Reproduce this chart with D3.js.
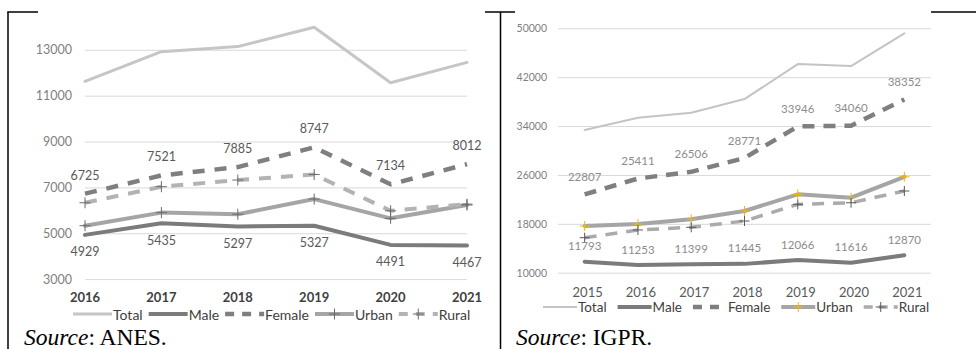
<!DOCTYPE html>
<html>
<head>
<meta charset="utf-8">
<script src="https://cdn.jsdelivr.net/npm/d3@7"></script>
<style>
  html, body { margin: 0; padding: 0; background: #fff; }
  svg { display: block; }
  .src { font-family: "Liberation Serif", "Times New Roman", serif; font-size: 23.5px; fill: #000; }
</style>
</head>
<body>
<svg id="fig" width="976" height="349"></svg>
<script>
// ---- Panel A: ANES, 2016–2021 ----
const yearsA  = ["2016", "2017", "2018", "2019", "2020", "2021"];
const totalA  = [11620, 12920, 13140, 13980, 11560, 12450];
const maleA   = [4929, 5435, 5297, 5327, 4491, 4467];
const femaleA = [6725, 7521, 7885, 8747, 7134, 8012];
const urbanA  = [5330, 5900, 5830, 6490, 5650, 6230];
const ruralA  = [6330, 7030, 7320, 7560, 5980, 6270];
const ticksA  = [3000, 5000, 7000, 9000, 11000, 13000];

// ---- Panel B: IGPR, 2015–2021 ----
const yearsB  = ["2015", "2016", "2017", "2018", "2019", "2020", "2021"];
const totalB  = [33350, 35360, 36180, 38420, 44140, 43820, 49170];
const maleB   = [11793, 11253, 11399, 11445, 12066, 11616, 12870];
const femaleB = [22807, 25411, 26506, 28771, 33946, 34060, 38352];
const urbanB  = [17640, 17970, 18740, 20100, 22830, 22270, 25700];
const ruralB  = [15730, 16990, 17430, 18460, 21190, 21450, 23370];
const ticksB  = [10000, 18000, 26000, 34000, 42000, 50000];

const seriesNames = ["Total", "Male", "Female", "Urban", "Rural"];

const svg = d3.select("#fig");
const FONT = "Lato, 'Open Sans', sans-serif";

// frame rules between the two panels
const frame = svg.append("g").attr("stroke", "#000").attr("stroke-width", 1.5);
frame.append("line").attr("x1", 8).attr("x2", 8).attr("y1", 12).attr("y2", 349);
frame.append("line").attr("x1", 7.25).attr("x2", 38).attr("y1", 12).attr("y2", 12);
frame.append("line").attr("x1", 485).attr("x2", 515).attr("y1", 12).attr("y2", 12);
frame.append("line").attr("x1", 500.5).attr("x2", 500.5).attr("y1", 12).attr("y2", 349);
frame.append("line").attr("x1", 931).attr("x2", 976).attr("y1", 12).attr("y2", 12);

function drawPanel(cfg) {
  const g = svg.append("g");
  const y = d3.scaleLinear().domain(cfg.yDomain).range(cfg.yRange);
  let xPos;
  if (cfg.band) {
    const xb = d3.scaleBand().domain(cfg.years).range(cfg.xRange).paddingInner(0).paddingOuter(0);
    xPos = d => xb(d) + xb.bandwidth() / 2;
  } else {
    const xp = d3.scalePoint().domain(cfg.years).range(cfg.xRange);
    xPos = d => xp(d);
  }

  // gridlines
  const yAxis = d3.axisLeft(y).tickValues(cfg.ticks)
    .tickSize(-(cfg.gridRange[1] - cfg.gridRange[0])).tickPadding(cfg.tickPad).tickFormat(d3.format("d"));
  const ay = g.append("g").attr("transform", `translate(${cfg.gridRange[0]},0)`).call(yAxis);
  ay.select(".domain").remove();
  ay.selectAll(".tick line").attr("stroke", "#d9d9d9").attr("stroke-width", 1);
  ay.selectAll(".tick text").attr("fill", cfg.yTickColor).style("font-family", FONT)
    .style("font-size", cfg.yTickSize + "px");

  // category labels
  const ax = g.append("g").attr("transform", `translate(0,${cfg.xLabelY})`);
  ax.selectAll("text").data(cfg.years).join("text")
    .attr("x", d => xPos(d) + cfg.xLabelShift)
    .attr("y", 0)
    .attr("text-anchor", "middle")
    .attr("dominant-baseline", "central")
    .style("font-family", FONT)
    .style("font-size", cfg.xLabelSize + "px")
    .style("font-weight", cfg.xLabelWeight)
    .attr("fill", cfg.xLabelColor)
    .text(d => d);

  const line = d3.line().x((d, i) => xPos(cfg.years[i])).y(d => y(d));

  cfg.series.forEach(s => {
    g.append("path").datum(s.values)
      .attr("d", line)
      .attr("fill", "none")
      .attr("stroke", s.color)
      .attr("stroke-width", s.width)
      .attr("stroke-dasharray", s.dash || null)
      .attr("stroke-linejoin", "round")
      .attr("stroke-linecap", s.dash ? "butt" : "round");
  });
  // plus markers drawn after all lines
  cfg.series.forEach(s => {
    if (!s.marker) return;
    const m = s.marker;
    g.append("g").selectAll("path").data(s.values).join("path")
      .attr("d", (d, i) => {
        const cx = xPos(cfg.years[i]), cy = y(d), r = m.size / 2;
        return `M${cx - r},${cy}H${cx + r}M${cx},${cy - r}V${cy + r}`;
      })
      .attr("stroke", m.color).attr("stroke-width", m.width).attr("fill", "none");
  });

  // value labels
  cfg.labels.forEach(L => {
    g.append("g").selectAll("text").data(L.values).join("text")
      .attr("x", (d, i) => xPos(cfg.years[i]))
      .attr("y", d => y(d) + L.dy)
      .attr("text-anchor", "middle")
      .attr("dominant-baseline", "central")
      .style("font-family", FONT)
      .style("font-size", cfg.valueSize + "px")
      .attr("fill", cfg.valueColor)
      .text(d => d);
  });

  // legend
  const lg = g.append("g").attr("transform", `translate(0,${cfg.legendY})`);
  let x = cfg.legendX;
  cfg.series.forEach((s, k) => {
    lg.append("line").attr("x1", x).attr("x2", x + cfg.symW).attr("y1", 0).attr("y2", 0)
      .attr("stroke", s.color).attr("stroke-width", s.width)
      .attr("stroke-dasharray", s.legendDash || s.dash || null);
    if (s.marker) {
      const cx = x + cfg.symW / 2, r = s.marker.size / 2;
      lg.append("path").attr("d", `M${cx - r},0H${cx + r}M${cx},${-r}V${r}`)
        .attr("stroke", s.marker.color).attr("stroke-width", s.marker.width);
    }
    const t = lg.append("text").attr("x", x + cfg.symW + 1).attr("y", 0)
      .attr("dominant-baseline", "central")
      .style("font-family", FONT).style("font-size", cfg.legendSize + "px")
      .attr("fill", cfg.legendColor).text(seriesNames[k]);
    x = x + cfg.symW + 1 + t.node().getComputedTextLength() + cfg.legendGap;
  });

  // source note
  const src = svg.append("text").attr("class", "src").attr("x", cfg.srcX).attr("y", cfg.srcY);
  src.append("tspan").style("font-style", "italic").text("Source");
  src.append("tspan").text(": " + cfg.srcName + ".");
}

drawPanel({
  years: yearsA, band: false,
  xRange: [85, 467], gridRange: [85, 467],
  yDomain: [3000, 13000], yRange: [279.1, 49.8], ticks: ticksA,
  tickPad: 13, yTickColor: "#7f7f7f", yTickSize: 12.5,
  xLabelY: 297, xLabelShift: 0, xLabelSize: 13, xLabelWeight: 700, xLabelColor: "#404040",
  valueSize: 12.5, valueColor: "#595959",
  series: [
    { values: totalA,  color: "#c6c6c6", width: 3 },
    { values: maleA,   color: "#7b7b7b", width: 4 },
    { values: femaleA, color: "#7f7f7f", width: 4.5, dash: "12,10", legendDash: "9,8" },
    { values: urbanA,  color: "#a5a5a5", width: 4, marker: { color: "#6b6b6b", size: 11, width: 1 } },
    { values: ruralA,  color: "#b3b3b3", width: 4, dash: "12,10", legendDash: "9,8", marker: { color: "#6b6b6b", size: 11, width: 1 } }
  ],
  labels: [
    { values: femaleA, dy: -18.5 },
    { values: maleA,   dy: 17 }
  ],
  legendX: 73, legendY: 314, symW: 39, legendGap: 6, legendSize: 14, legendColor: "#404040",
  srcX: 24, srcY: 345, srcName: "ANES"
});

drawPanel({
  years: yearsB, band: true,
  xRange: [558, 931], gridRange: [558, 931],
  yDomain: [10000, 50000], yRange: [272.7, 28.3], ticks: ticksB,
  tickPad: 11, yTickColor: "#7f7f7f", yTickSize: 10.5,
  xLabelY: 292, xLabelShift: 3, xLabelSize: 13, xLabelWeight: 400, xLabelColor: "#595959",
  valueSize: 11.5, valueColor: "#8c8c8c",
  series: [
    { values: totalB,  color: "#c4c4c4", width: 2 },
    { values: maleB,   color: "#7b7b7b", width: 4 },
    { values: femaleB, color: "#7f7f7f", width: 4.5, dash: "12,9", legendDash: "9,8" },
    { values: urbanB,  color: "#a5a5a5", width: 4, marker: { color: "#f5b800", size: 10, width: 1 } },
    { values: ruralB,  color: "#ababab", width: 3.5, dash: "12,9", legendDash: "9,6", marker: { color: "#595959", size: 10, width: 1 } }
  ],
  labels: [
    { values: femaleB, dy: -18 },
    { values: maleB,   dy: -16 }
  ],
  legendX: 543, legendY: 307, symW: 34, legendGap: 11, legendSize: 13.5, legendColor: "#404040",
  srcX: 516, srcY: 345, srcName: "IGPR"
});
</script>
</body>
</html>
